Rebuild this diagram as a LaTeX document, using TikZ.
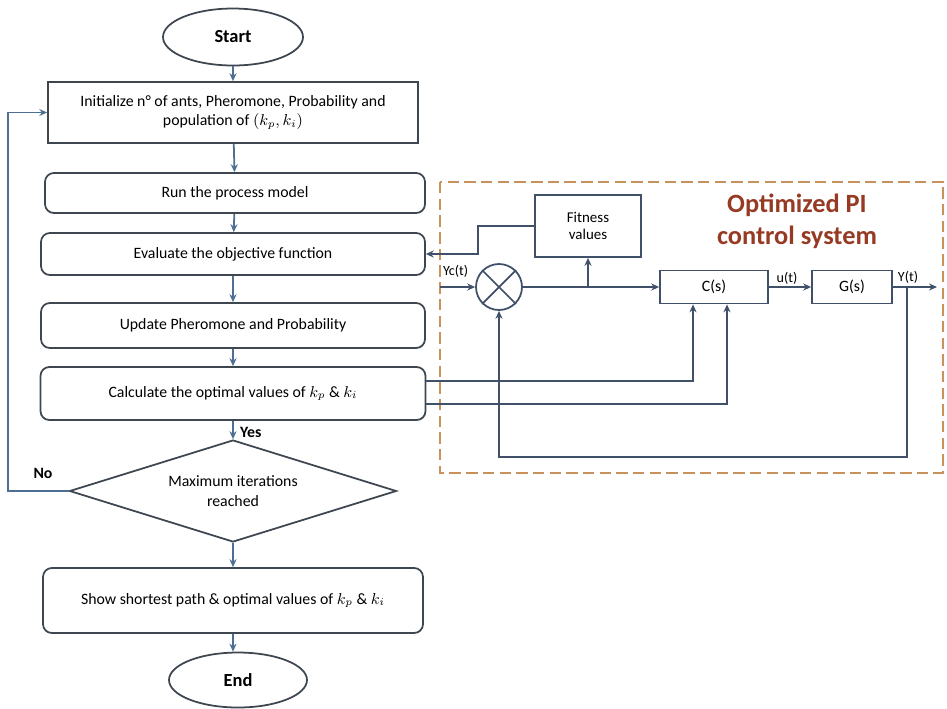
\documentclass[tikz,border=0pt]{standalone}
\usepackage{fontspec}
\setmainfont{Carlito}
\usetikzlibrary{shapes.geometric,arrows.meta}
\definecolor{boxc}{HTML}{3E4650}
\definecolor{flowc}{HTML}{4F6F92}
\definecolor{ctrlc}{HTML}{3F5068}
\definecolor{titlec}{HTML}{963A24}
\definecolor{dashc}{HTML}{C8925C}
\begin{document}
\begin{tikzpicture}[x=0.02cm,y=-0.02cm,
  flowbox/.style={draw=boxc, line width=1pt, rounded corners=5pt, fill=white,
    font=\fontsize{9}{11}\selectfont, align=center, inner sep=0pt},
  sqbox/.style={draw=boxc, line width=1pt, fill=white,
    font=\fontsize{9}{11}\selectfont, align=center, inner sep=0pt},
  term/.style={draw=boxc, line width=1pt, ellipse, fill=white,
    font=\fontsize{10.5}{12}\selectfont\bfseries, inner sep=0pt},
  decide/.style={draw=boxc, line width=1pt, diamond, aspect=3.2, fill=white,
    font=\fontsize{9}{11}\selectfont, align=center, inner sep=0pt},
  cbox/.style={draw=ctrlc, line width=1pt, fill=white,
    font=\fontsize{8.5}{10}\selectfont, align=center, inner sep=0pt},
  farr/.style={draw=flowc, line width=1pt, -{Stealth[length=4.5pt,width=4pt]}},
  carr/.style={draw=ctrlc, line width=1pt, -{Stealth[length=4.5pt,width=4pt]}},
  cline/.style={draw=ctrlc, line width=1pt},
  lab/.style={font=\fontsize{8}{9}\selectfont, inner sep=1pt},
  blab/.style={font=\fontsize{9}{10}\selectfont\bfseries, inner sep=1pt}
]
\useasboundingbox (0,0) rectangle (947,708);

% dashed frame and title
\draw[dashc, line width=1pt, dash pattern=on 6.5pt off 3pt] (440,182) rectangle (943,473);
\node[font=\fontsize{15}{18}\selectfont\bfseries, text=titlec, align=center] (title) at (797,221)
  {Optimized PI\\control system};

% flowchart
\node[term, minimum width=2.8cm, minimum height=1.14cm] (start) at (233,37) {Start};
\node[sqbox, minimum width=7.4cm, minimum height=1.22cm] (init) at (233,112.5)
  {Initialize n° of ants, Pheromone, Probability and\\population of $(k_p, k_i)$};
\node[flowbox, minimum width=7.6cm, minimum height=0.8cm] (run) at (235,193) {Run the process model};
\node[flowbox, minimum width=7.68cm, minimum height=0.84cm] (eval) at (233,254) {Evaluate the objective function};
\node[flowbox, minimum width=7.68cm, minimum height=0.9cm] (upd) at (233,325.5) {Update Pheromone and Probability};
\node[flowbox, minimum width=7.7cm, minimum height=1.06cm] (calc) at (233,393.5)
  {Calculate the optimal values of $k_p$ \& $k_i$};
\node[decide, minimum width=6.54cm, minimum height=2.04cm] (dec) at (233,491)
  {Maximum iterations\\reached};
\node[flowbox, minimum width=7.6cm, minimum height=1.3cm] (show) at (233,600.5)
  {Show shortest path \& optimal values of $k_p$ \& $k_i$};
\node[term, minimum width=2.76cm, minimum height=1.1cm] (end) at (238,680) {End};

\draw[farr] (start) -- (init);
\draw[farr] (init) -- (run);
\draw[farr] (run) -- (eval);
\draw[farr] (eval) -- (upd);
\draw[farr] (upd) -- (calc);
\draw[farr] (calc) -- (dec);
\draw[farr] (dec) -- (show);
\draw[farr] (show.south) -- (show.south |- end.north);
\node[blab, anchor=west] (yes) at (238,432) {Yes};
\node[blab] (no) at (43,473) {No};
\coordinate (nob) at (8,491);
\coordinate (not) at (8,112.5);
\draw[farr] (dec.west) -- (nob) -- (not) -- (init.west);

% control system
\node[cbox, minimum width=2.12cm, minimum height=1.24cm] (fit) at (588,226) {Fitness\\values};
\node[draw=ctrlc, line width=1pt, circle, minimum size=0.92cm, inner sep=0pt] (sum) at (499,287) {};
\draw[cline] (sum.north east) -- (sum.south west) (sum.north west) -- (sum.south east);
\node[cbox, minimum width=2.16cm, minimum height=0.66cm, font=\fontsize{9}{10}\selectfont] (cs) at (714,287) {C(s)};
\node[cbox, minimum width=1.6cm, minimum height=0.66cm, font=\fontsize{9}{10}\selectfont] (gs) at (852,287) {G(s)};

\coordinate (yin) at (440,287);
\draw[carr] (yin) -- (sum.west);
\node[lab, anchor=west] (yc) at (441,271) {Yc(t)};
\coordinate (br) at (588,287);
\draw[carr] (sum.east) -- (cs.west);
\draw[carr] (br) -- (fit.south);
\coordinate (fa) at (478,226);
\coordinate (fb) at (478,254);
\draw[carr] (fit.west) -- (fa) -- (fb) -- (eval.east);
\draw[carr] (cs.east) -- (gs.west);
\node[lab] (ut) at (787,278) {u(t)};
\coordinate (yout) at (937,287);
\draw[carr] (gs.east) -- (yout);
\node[lab] (yt) at (908,277) {Y(t)};
\coordinate (fb1) at (907,287);
\coordinate (fb2) at (907,457);
\coordinate (fb3) at (499,457);
\draw[carr] (fb1) -- (fb2) -- (fb3) -- (sum.south);
\draw[carr] ([yshift=0.25cm]calc.east) -| ([xshift=-0.42cm]cs.south);
\draw[carr] ([yshift=-0.21cm]calc.east) -| ([xshift=0.26cm]cs.south);
\end{tikzpicture}
\end{document}
